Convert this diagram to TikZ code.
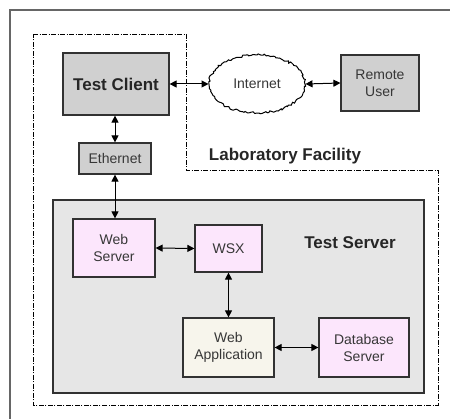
\documentclass[tikz,border=0pt]{standalone}
\usepackage{fontspec}
\setmainfont{Liberation Sans}
\usetikzlibrary{arrows.meta,shapes.geometric,decorations.pathmorphing}
\definecolor{boxgray}{RGB}{208,208,208}
\definecolor{srvgray}{RGB}{230,230,230}
\definecolor{pinkbox}{RGB}{252,230,252}
\definecolor{creambox}{RGB}{247,245,236}
\definecolor{txtgray}{RGB}{55,55,55}
\definecolor{edgegray}{RGB}{50,50,50}
\begin{document}
\begin{tikzpicture}[x=1pt,y=-1pt,
  plainbox/.style={draw=edgegray,line width=1.2pt,rectangle,inner sep=0pt,align=center,
     font=\fontsize{14}{17}\selectfont,text=txtgray},
  graybox/.style={plainbox,fill=boxgray},
  pinkb/.style={plainbox,fill=pinkbox},
  creamb/.style={plainbox,fill=creambox},
  link/.style={line width=1pt,{Triangle[length=7pt,width=7pt]}-{Triangle[length=7pt,width=7pt]}},
  dashdot/.style={line width=0.8pt,dash pattern=on 5pt off 1.5pt on 1pt off 1.5pt},
  bigtext/.style={font=\fontsize{17}{20}\bfseries\selectfont,text=black!85}
]
\useasboundingbox (0,0) rectangle (450,419);
\fill[white] (0,0) rectangle (450,419);
% outer frame
\draw[line width=1.5pt,gray!80!black] (451,10) -- (10,10) -- (10,420);
% laboratory facility
\draw[dashdot] (33,34) -- (186,34) -- (186,170) -- (438,170) -- (438,405) -- (33,405) -- cycle;
\node[bigtext,anchor=base] (lab) at (285,161) {Laboratory Facility};
% test server background
\node[draw=edgegray,line width=1.2pt,fill=srvgray,minimum width=371pt,minimum height=193pt,inner sep=0pt] (srv) at (238.5,296.5) {};
\node[bigtext,anchor=base] (srvlbl) at (350,249) {Test Server};
% nodes
\node[graybox,minimum width=106pt,minimum height=62pt,font=\fontsize{17}{20}\bfseries\selectfont,text=black!85] (tc) at (116,84) {Test Client};
\node[graybox,minimum width=72pt,minimum height=31pt] (eth) at (115,158.5) {Ethernet};
\node[graybox,minimum width=78pt,minimum height=56pt] (ru) at (380,83) {Remote\\User};
\node[draw=black,line width=1pt,ellipse,minimum width=96pt,minimum height=58pt,inner sep=0pt,
  font=\fontsize{14}{17}\selectfont,text=txtgray,
  decorate,decoration={random steps,segment length=2pt,amplitude=1.1pt}] (inet) at (257,84) {Internet};
\node[pinkb,minimum width=82pt,minimum height=58pt] (ws) at (114,248) {Web\\Server};
\node[pinkb,minimum width=67pt,minimum height=47pt] (wsx) at (228.5,248.5) {WSX};
\node[creamb,minimum width=91pt,minimum height=59pt] (wa) at (228.5,347.5) {Web\\Application};
\node[pinkb,minimum width=90pt,minimum height=59pt] (db) at (364,347.5) {Database\\Server};
% connectors
\draw[link] (tc.east) -- (inet.west);
\draw[link] (inet.east) -- (ru.west);
\draw[link] (tc.south -| eth.north) -- (eth.north);
\draw[link] (eth.south) -- (eth.south |- ws.north);
\draw[link] (ws.east) -- (wsx.west);
\draw[link] (wsx.south) -- (wa.north);
\draw[link] (wa.east) -- (db.west);
\end{tikzpicture}
\end{document}
